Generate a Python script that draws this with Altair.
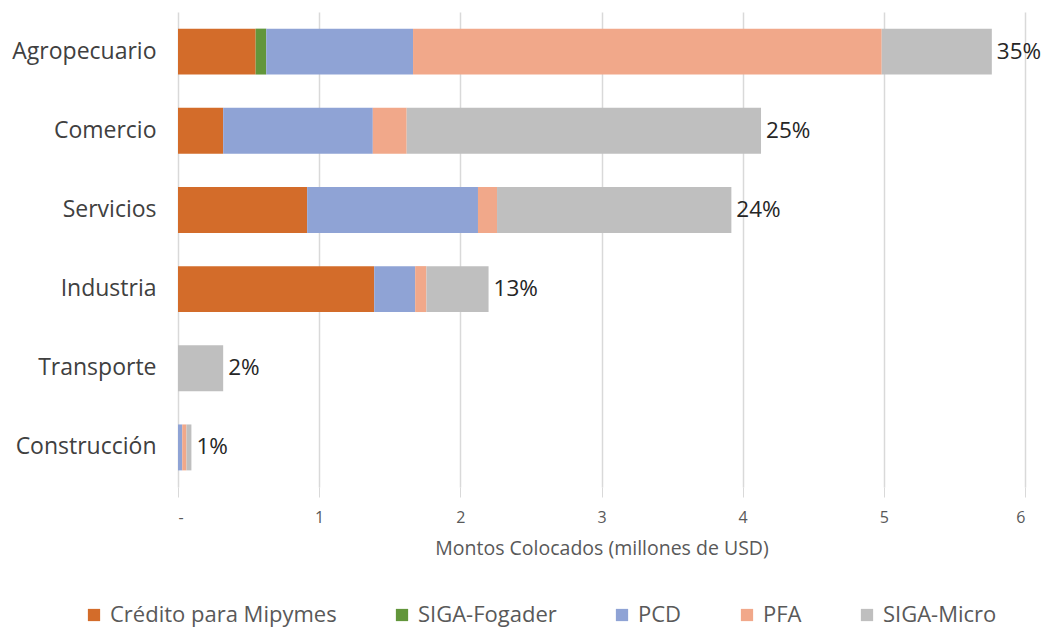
import altair as alt
import pandas as pd

sectores = ["Agropecuario", "Comercio", "Servicios", "Industria", "Transporte", "Construcción"]
programas = ["Crédito para Mipymes", "SIGA-Fogader", "PCD", "PFA", "SIGA-Micro"]
colores = ["#D36C2A", "#62963B", "#8FA3D5", "#F1A88A", "#BFBFBF"]

credito = [0.55, 0.32, 0.915, 1.39, 0.0, 0.0]
fogader = [0.075, 0.0, 0.0, 0.0, 0.0, 0.0]
pcd = [1.04, 1.06, 1.21, 0.29, 0.0, 0.03]
pfa = [3.32, 0.24, 0.135, 0.08, 0.0, 0.03]
micro = [0.78, 2.51, 1.66, 0.44, 0.32, 0.035]
porcentajes = ["35%", "25%", "24%", "13%", "2%", "1%"]

series = [credito, fogader, pcd, pfa, micro]
rows = []
for pi, (prog, vals) in enumerate(zip(programas, series)):
    for s, v in zip(sectores, vals):
        rows.append({"sector": s, "programa": prog, "valor": v, "orden": pi})
df = pd.DataFrame(rows)

tot = pd.DataFrame({"sector": sectores,
                    "total": [sum(x) for x in zip(*series)],
                    "pct": porcentajes})

FONT = "Open Sans"

y_enc = alt.Y("sector:N", sort=sectores, title=None,
              scale=alt.Scale(paddingInner=0.42, paddingOuter=0.21),
              axis=alt.Axis(ticks=False, domain=False, labelFontSize=23,
                            labelColor="#404040", labelFont=FONT, labelPadding=22))

bars = alt.Chart(df).mark_bar().encode(
    y=y_enc,
    x=alt.X("valor:Q", stack="zero",
            scale=alt.Scale(domain=[0, 6], nice=False),
            title="Montos Colocados (millones de USD)",
            axis=alt.Axis(values=[0, 1, 2, 3, 4, 5, 6], format="d",
                          labelExpr="datum.value == 0 ? '-' : datum.label",
                          domain=False, ticks=True, tickSize=10, tickColor="#D9D9D9",
                          gridColor="#D9D9D9", gridWidth=1.5,
                          labelFontSize=16, labelColor="#595959", labelFont=FONT,
                          labelPadding=12, titleFontSize=19.5, titleColor="#595959",
                          titleFont=FONT, titleFontWeight="normal", titlePadding=14)),
    color=alt.Color("programa:N", sort=programas,
                    scale=alt.Scale(domain=programas, range=colores),
                    legend=alt.Legend(orient="none", direction="horizontal",
                                      legendX=-95, legendY=592, title=None,
                                      symbolType="square", symbolSize=150,
                                      symbolStrokeWidth=0, labelFontSize=22,
                                      labelColor="#595959", labelFont=FONT,
                                      labelLimit=0,
                                      columnPadding=54, labelOffset=5)),
    order=alt.Order("orden:Q"),
)

labels = alt.Chart(tot).mark_text(align="left", baseline="middle", dx=5,
                                  fontSize=22.5, font=FONT, color="#262626").encode(
    y=alt.Y("sector:N", sort=sectores),
    x=alt.X("total:Q"),
    text="pct:N",
)

chart = alt.layer(bars, labels).properties(
    width=847, height=475,
    autosize=alt.AutoSizeParams(type="none"),
    padding={"left": 170, "top": 4, "right": 16, "bottom": 144},
).configure_view(stroke=None)

chart.save("out.html", embed_options={"renderer": "svg", "actions": False})
